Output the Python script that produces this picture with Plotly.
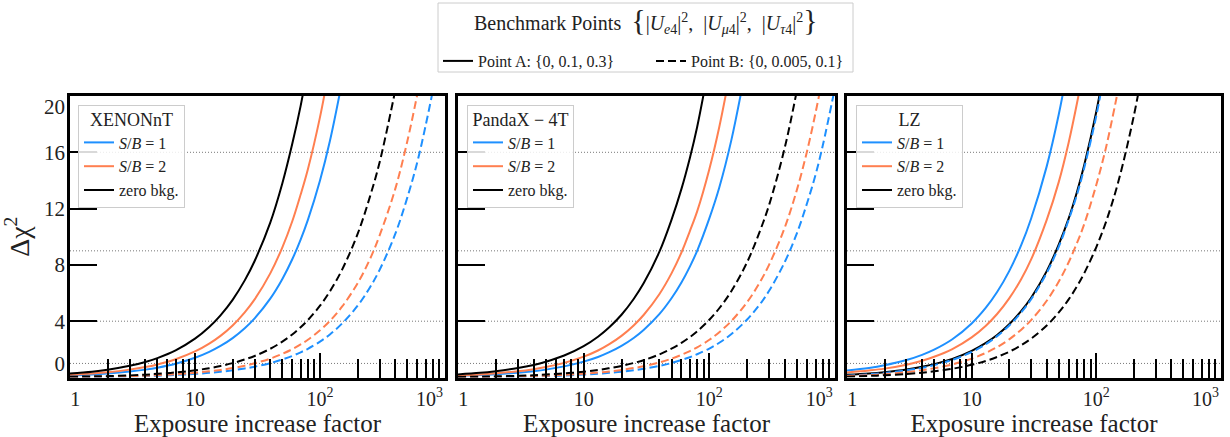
import plotly.graph_objects as go

# ---------------- data ----------------
EXPOSURE = [1, 1.5, 2, 3, 4, 5, 7, 10, 13, 16, 20, 25, 30, 40, 50, 60, 70, 80,
            100, 120, 150, 200, 250, 300, 400, 500, 600, 700, 800, 1000]

# XENONnT
XENON_SB1_A = [0.14, 0.21, 0.28, 0.42, 0.56, 0.70, 0.98, 1.40, 1.82, 2.24, 2.80, 3.50, 4.20, 5.60, 7.00, 8.40, 9.80, 11.2, 14.0, 16.8, 21.0]
XENON_SB2_A = [0.19, 0.28, 0.37, 0.56, 0.74, 0.93, 1.30, 1.85, 2.41, 2.96, 3.70, 4.63, 5.55, 7.40, 9.25, 11.1, 13.0, 14.8, 18.5, 22.2]
XENON_ZB_A = [0.28, 0.41, 0.55, 0.83, 1.10, 1.38, 1.93, 2.76, 3.59, 4.42, 5.52, 6.90, 8.28, 11.0, 13.8, 16.6, 19.3, 22.1]
XENON_SB1_B = [0.03, 0.04, 0.05, 0.08, 0.10, 0.13, 0.18, 0.26, 0.33, 0.41, 0.51, 0.64, 0.77, 1.02, 1.28, 1.53, 1.79, 2.04, 2.55, 3.06, 3.83, 5.10, 6.38, 7.65, 10.2, 12.8, 15.3, 17.9, 20.4]
XENON_SB2_B = [0.03, 0.05, 0.07, 0.10, 0.13, 0.17, 0.23, 0.34, 0.44, 0.54, 0.67, 0.84, 1.01, 1.34, 1.68, 2.01, 2.35, 2.68, 3.35, 4.02, 5.03, 6.70, 8.38, 10.1, 13.4, 16.8, 20.1]
XENON_ZB_B = [0.05, 0.08, 0.10, 0.15, 0.20, 0.26, 0.36, 0.51, 0.66, 0.82, 1.02, 1.28, 1.53, 2.04, 2.55, 3.06, 3.57, 4.08, 5.10, 6.12, 7.65, 10.2, 12.8, 15.3, 20.4]

# PandaX-4T
PANDAX_SB1_A = [0.11, 0.17, 0.23, 0.34, 0.45, 0.56, 0.79, 1.13, 1.46, 1.80, 2.25, 2.81, 3.38, 4.50, 5.63, 6.75, 7.88, 9.00, 11.3, 13.5, 16.9, 22.5]
PANDAX_SB2_A = [0.15, 0.22, 0.30, 0.44, 0.59, 0.74, 1.04, 1.48, 1.92, 2.37, 2.96, 3.70, 4.44, 5.92, 7.40, 8.88, 10.4, 11.8, 14.8, 17.8, 22.2]
PANDAX_ZB_A = [0.22, 0.33, 0.45, 0.67, 0.89, 1.12, 1.56, 2.23, 2.90, 3.57, 4.46, 5.58, 6.69, 8.92, 11.2, 13.4, 15.6, 17.8, 22.3]
PANDAX_SB1_B = [0.02, 0.03, 0.04, 0.06, 0.08, 0.10, 0.14, 0.21, 0.27, 0.33, 0.41, 0.52, 0.62, 0.82, 1.03, 1.24, 1.44, 1.65, 2.06, 2.47, 3.09, 4.12, 5.15, 6.18, 8.24, 10.3, 12.4, 14.4, 16.5, 20.6]
PANDAX_SB2_B = [0.03, 0.04, 0.05, 0.08, 0.11, 0.13, 0.19, 0.27, 0.35, 0.43, 0.54, 0.67, 0.80, 1.07, 1.34, 1.61, 1.88, 2.14, 2.68, 3.22, 4.02, 5.36, 6.70, 8.04, 10.7, 13.4, 16.1, 18.8, 21.4]
PANDAX_ZB_B = [0.04, 0.06, 0.08, 0.12, 0.16, 0.21, 0.29, 0.41, 0.53, 0.66, 0.82, 1.03, 1.23, 1.64, 2.05, 2.46, 2.87, 3.28, 4.10, 4.92, 6.15, 8.20, 10.3, 12.3, 16.4, 20.5]

# LZ
LZ_SB1_A = [0.50, 0.68, 0.87, 1.24, 1.61, 1.98, 2.72, 3.84, 4.96, 6.07, 7.56, 9.42, 11.3, 15.0, 18.7, 22.4]
LZ_SB2_A = [0.36, 0.50, 0.63, 0.91, 1.19, 1.47, 2.02, 2.85, 3.68, 4.51, 5.62, 7.00, 8.39, 11.2, 13.9, 16.7, 19.5, 22.2]
LZ_ZB_A = [0.19, 0.28, 0.38, 0.57, 0.76, 0.95, 1.32, 1.89, 2.46, 3.02, 3.78, 4.73, 5.67, 7.56, 9.45, 11.3, 13.2, 15.1, 18.9, 22.7]
LZ_SB1_B = [0.13, 0.23, 0.32, 0.51, 0.69, 0.88, 1.25, 1.81, 2.37, 2.94, 3.69, 4.63, 5.56, 7.43, 9.30, 11.2, 13.0, 14.9, 18.6, 22.4]
LZ_SB2_B = [0.10, 0.17, 0.24, 0.38, 0.52, 0.66, 0.93, 1.34, 1.75, 2.16, 2.71, 3.40, 4.08, 5.45, 6.82, 8.19, 9.56, 10.9, 13.7, 16.4, 20.5]
LZ_ZB_B = [0.06, 0.11, 0.16, 0.25, 0.34, 0.44, 0.62, 0.90, 1.18, 1.46, 1.83, 2.30, 2.76, 3.69, 4.62, 5.55, 6.48, 7.41, 9.27, 11.1, 13.9, 18.6, 23.2]

DETECTORS = ["XENONnT", "PandaX − 4T", "LZ"]
SERIES_LABELS = ["<i>S</i>/<i>B</i> = 1", "<i>S</i>/<i>B</i> = 2", "zero bkg."]
SERIES_COLORS = ["#1E90FF", "#FF7F50", "#000000"]
POINT_LABELS = ["Point A: {0, 0.1, 0.3}", "Point B: {0, 0.005, 0.1}"]

SIGMA_LEVELS = [1, 4, 9, 16]
Y_TICKS = [0, 4, 8, 12, 16, 20]
Y_LABEL_POS = [1, 4, 8, 12, 16, 19.25]
Y_LABEL_TEXT = ["0", "4", "8", "12", "16", "20"]
X_MAJOR = [1, 10, 100, 1000]
X_MINOR = [2, 3, 4, 5, 6, 7, 8, 9, 20, 30, 40, 50, 60, 70, 80, 90,
           200, 300, 400, 500, 600, 700, 800, 900]
X_LABEL_POS = [1.1, 10, 100, 750]
X_LABEL_TEXT = ["1", "10", "10<sup>2</sup>", "10<sup>3</sup>"]

CURVES_A = [[XENON_SB1_A, XENON_SB2_A, XENON_ZB_A],
            [PANDAX_SB1_A, PANDAX_SB2_A, PANDAX_ZB_A],
            [LZ_SB1_A, LZ_SB2_A, LZ_ZB_A]]
CURVES_B = [[XENON_SB1_B, XENON_SB2_B, XENON_ZB_B],
            [PANDAX_SB1_B, PANDAX_SB2_B, PANDAX_ZB_B],
            [LZ_SB1_B, LZ_SB2_B, LZ_ZB_B]]

# ---------------- figure ----------------
FONT = "Liberation Serif, DejaVu Serif, serif"
TXT = "#222222"
W, H = 1230, 437
X_DOMAINS = [[70 / W, 445 / W], [458 / W, 835 / W], [847 / W, 1221 / W]]
Y_DOMAIN = [1 - 377.5 / H, 1 - 96 / H]
LEGEND_X = [78 / W, 467 / W, 856 / W]
LEGEND_Y = 1 - 105 / H
DASH = "8px,4px"

fig = go.Figure()

for p in range(3):
    sx = "" if p == 0 else str(p + 1)
    leg = "legend" + str(p + 2)
    for s in range(3):
        ya = CURVES_A[p][s]
        fig.add_trace(go.Scatter(
            x=EXPOSURE[:len(ya)], y=ya, mode="lines",
            line=dict(color=SERIES_COLORS[s], width=2, shape="spline"),
            name=SERIES_LABELS[s], legend=leg, legendgroup=f"p{p}s{s}",
            xaxis="x" + sx, yaxis="y" + sx, hoverinfo="skip"))
    for s in range(3):
        yb = CURVES_B[p][s]
        fig.add_trace(go.Scatter(
            x=EXPOSURE[:len(yb)], y=yb, mode="lines",
            line=dict(color=SERIES_COLORS[s], width=2, dash=DASH, shape="spline"),
            showlegend=False, xaxis="x" + sx, yaxis="y" + sx, hoverinfo="skip"))
    for lv in SIGMA_LEVELS:
        fig.add_shape(type="line", xref=f"x{sx} domain", yref="y" + sx,
                      x0=0, x1=1, y0=lv, y1=lv, layer="below",
                      line=dict(color="#777777", width=1, dash="1px,2px"))
    # empty carrier so the label-only overlay axis is drawn
    fig.add_trace(go.Scatter(x=[None], y=[None], mode="lines", showlegend=False,
                             xaxis="x" + str(p + 4), yaxis="y" + sx, hoverinfo="skip"))
fig.add_trace(go.Scatter(x=[None], y=[None], mode="lines", showlegend=False,
                         xaxis="x", yaxis="y4", hoverinfo="skip"))

# benchmark-point legend entries (line styles)
fig.add_trace(go.Scatter(x=[None], y=[None], mode="lines", name=POINT_LABELS[0],
                         line=dict(color="black", width=2), legend="legend"))
fig.add_trace(go.Scatter(x=[None], y=[None], mode="lines", name=POINT_LABELS[1],
                         line=dict(color="black", width=2, dash=DASH), legend="legend"))

# frame and heading of the benchmark-point legend
fig.add_shape(type="rect", xref="paper", yref="paper",
              x0=438 / W, x1=853 / W, y0=1 - 72 / H, y1=1 - 3 / H,
              line=dict(color="#cccccc", width=1), fillcolor="white", layer="below")
BR_L = "<span style='font-size:30px'>{</span>"
BR_R = "<span style='font-size:30px'>}</span>"
fig.add_annotation(
    xref="paper", yref="paper", x=645.5 / W, y=1 - 20 / H,
    xanchor="center", yanchor="middle", showarrow=False,
    text="Benchmark Points  " + BR_L
         + "|<i>U</i><sub><i>e</i>4</sub>|<sup>2</sup>,  "
         + "|<i>U</i><sub><i>μ</i>4</sub>|<sup>2</sup>,  "
         + "|<i>U</i><sub><i>τ</i>4</sub>|<sup>2</sup>" + BR_R,
    font=dict(family=FONT, size=20, color=TXT))

axis_common = dict(showline=True, linecolor="black", linewidth=2.5, mirror=True,
                   showgrid=False, zeroline=False, showticklabels=False,
                   ticks="inside", tickcolor="black", tickwidth=2)

layout = dict(
    width=W, height=H, margin=dict(l=0, r=0, t=0, b=0),
    paper_bgcolor="white", plot_bgcolor="white",
    font=dict(family=FONT, color="black"),
    showlegend=True,
)

for p in range(3):
    sx = "" if p == 0 else str(p + 1)
    layout["xaxis" + sx] = dict(
        axis_common, type="log", range=[0, 3], domain=X_DOMAINS[p],
        anchor="y" + sx, tickvals=X_MAJOR, ticklen=25,
        minor=dict(ticks="inside", ticklen=19, tickwidth=1.8, tickcolor="black",
                   tickvals=X_MINOR, showgrid=False))
    layout["yaxis" + sx] = dict(
        axis_common, range=[0, 20], domain=Y_DOMAIN, anchor="x" + sx,
        tickvals=Y_TICKS, ticklen=27)
    # label-only overlay axes
    layout["xaxis" + str(p + 4)] = dict(
        type="log", range=[0, 3], overlaying="x" + sx, anchor="y" + sx, side="bottom",
        showline=False, showgrid=False, zeroline=False, ticks="",
        tickvals=X_LABEL_POS, ticktext=X_LABEL_TEXT, ticklabelstandoff=7,
        tickfont=dict(family=FONT, size=20, color=TXT),
        title=dict(text="Exposure increase factor", standoff=3,
                   font=dict(family=FONT, size=25, color=TXT)))
    layout["legend" + str(p + 2)] = dict(
        x=LEGEND_X[p], y=LEGEND_Y, xanchor="left", yanchor="top",
        bgcolor="rgba(255,255,255,0.85)", bordercolor="#cccccc", borderwidth=1,
        font=dict(family=FONT, size=16, color=TXT),
        title=dict(text="<span style='font-size:18px'>" + DETECTORS[p] + "</span>",
                   side="top center", font=dict(family=FONT, size=15, color=TXT)),
        tracegroupgap=0, itemwidth=30)

layout["yaxis4"] = dict(
    range=[0, 20], overlaying="y", anchor="x", side="left",
    showline=False, showgrid=False, zeroline=False, ticks="",
    tickvals=Y_LABEL_POS, ticktext=Y_LABEL_TEXT, ticklabelstandoff=4,
    tickfont=dict(family=FONT, size=21, color=TXT),
    title=dict(text="Δχ<sup>2</sup>", standoff=8,
               font=dict(family=FONT, size=28, color=TXT)))

layout["legend"] = dict(
    orientation="h", x=438 / W, y=1 - 44 / H, xanchor="left", yanchor="top",
    bgcolor="rgba(0,0,0,0)", borderwidth=0,
    font=dict(family=FONT, size=16, color=TXT),
    entrywidth=168, itemwidth=30)

fig.update_layout(**layout)
fig.write_html("out.html")
